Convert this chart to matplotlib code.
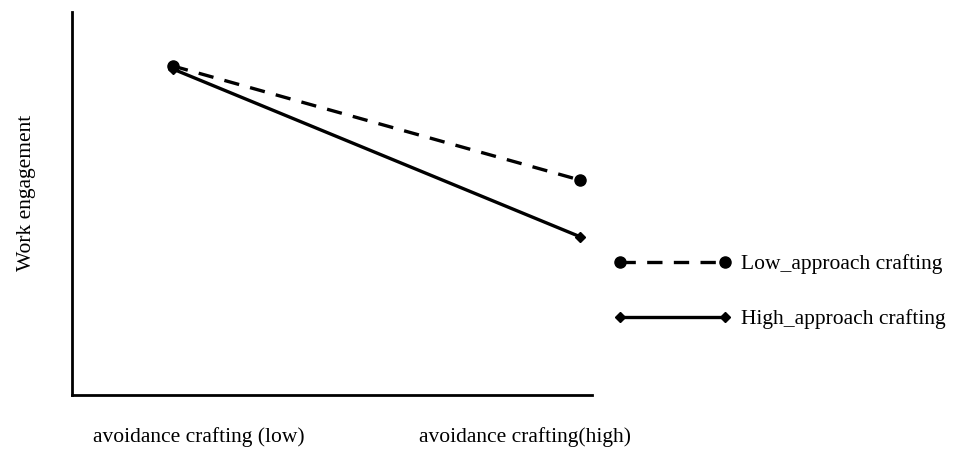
"""
Interaction plot: work engagement by avoidance crafting and approach crafting
"""

import matplotlib.pyplot as plt
from matplotlib.lines import Line2D

plt.rcParams['font.family'] = ['Liberation Serif', 'DejaVu Serif']

# Data (arbitrary engagement units)
conditions = [0, 1]
cond_labels = ["avoidance crafting (low)", "avoidance crafting(high)"]
low_approach = [0.859, 0.561]
high_approach = [0.851, 0.413]
series_labels = ["Low_approach crafting", "High_approach crafting"]

FS = 15.5
LW = 2.4
DASH = (0, (4.6, 3.4))

fig = plt.figure(figsize=(9.55, 4.53), dpi=100)
ax = fig.add_axes([0.0754, 0.128, 0.5446, 0.8455])

ax.plot(conditions, low_approach, color="black", linestyle=DASH, lw=LW,
        marker="o", markersize=8)
ax.plot(conditions, high_approach, color="black", linestyle="-", lw=LW,
        marker="D", markersize=5)

ax.set_xlim(-0.248, 1.029)
ax.set_ylim(0, 1)

for side in ("top", "right"):
    ax.spines[side].set_visible(False)
for side in ("left", "bottom"):
    ax.spines[side].set_linewidth(2)
ax.set_xticks([])
ax.set_yticks([])
ax.set_ylabel("Work engagement", fontsize=FS)
ax.yaxis.set_label_coords(-0.069, 0.527)

# category labels under the axis (not centred on the points in the original)
for xpos, lab in zip([0.244, 0.871], cond_labels):
    ax.text(xpos, -0.110, lab, transform=ax.transAxes, ha="center", va="center",
            fontsize=FS)

# legend with markers at both ends of each handle
handles = [
    Line2D([], [], color="black", linestyle=DASH, lw=LW, marker="o", markersize=8),
    Line2D([], [], color="black", linestyle="-", lw=LW, marker="D", markersize=5),
]
fig.legend(handles, series_labels, loc="upper left", bbox_to_anchor=(0.622, 0.4816),
           frameon=False, fontsize=FS, numpoints=2, handlelength=5.49,
           handletextpad=0.44, labelspacing=1.63)

fig.savefig("out.png", dpi=100)
